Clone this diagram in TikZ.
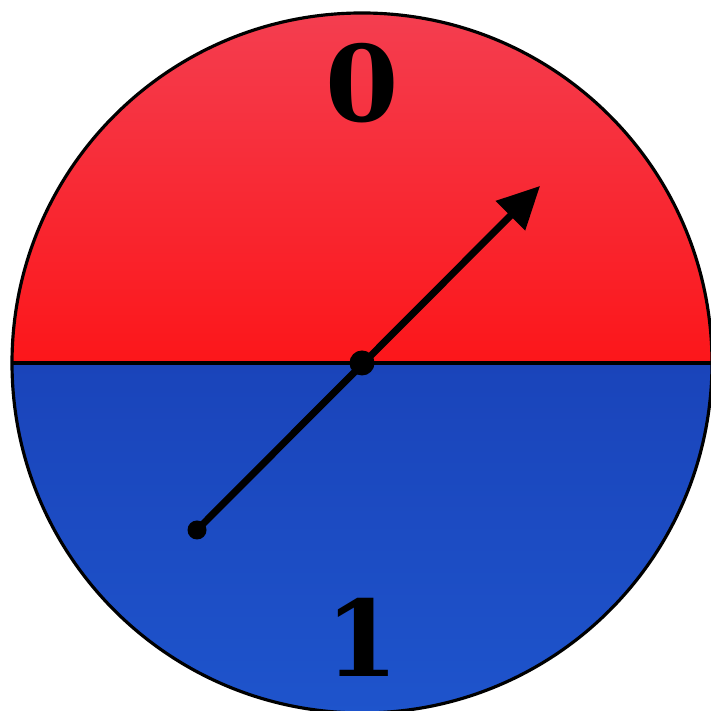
\documentclass[tikz,border=0pt]{standalone}
\usepackage{fontspec}
\usepackage{tikz}
\usetikzlibrary{arrows.meta,positioning}
\newfontfamily\dialfont{DejaVu Serif}
\definecolor{spinred}{RGB}{252,22,26}
\definecolor{spinpink}{RGB}{244,62,80}
\definecolor{spinblue}{RGB}{30,84,204}
\definecolor{spindeep}{RGB}{26,68,186}

\begin{document}
\begin{tikzpicture}[x=1cm,y=1cm,
  dot/.style={circle,fill=black,inner sep=0pt,minimum size=#1},
  digit/.style={font=\dialfont\fontsize{30}{30}\selectfont\bfseries,inner sep=0pt,anchor=base},
  needle/.style={-{Triangle[length=4.2mm,width=4.0mm]},line width=2pt,black}]
\useasboundingbox (0,0) rectangle (7.10,7.11);
\coordinate (mid) at (3.62,3.48);
% two halves of the dial
\begin{scope}
  \clip (mid) ++(-3.50,0) arc[start angle=180,end angle=0,radius=3.50] -- cycle;
  \shade[top color=spinpink,middle color=spinred,bottom color=spinred]
    (0.05,3.48) rectangle (7.20,7.00);
\end{scope}
\begin{scope}
  \clip (mid) ++(-3.50,0) arc[start angle=180,end angle=360,radius=3.50] -- cycle;
  \shade[top color=spindeep,bottom color=spinblue]
    (0.05,-0.05) rectangle (7.20,3.48);
\end{scope}
\draw[line width=0.9pt] (mid) circle[radius=3.50];
\draw[line width=0.9pt] (0.12,3.48) -- (7.12,3.48);
% labels
\node[digit] (zero) at (3.62,5.89) {0};
\node[digit] (one) at (3.62,0.34) {1};
% pointer
\node[dot=2.5mm] (hub) at (mid) {};
\node[dot=1.9mm] (tail) at (1.97,1.81) {};
\coordinate (tip) at (5.40,5.25);
\draw[needle] (tail.center) -- (tip);
\end{tikzpicture}
\end{document}
